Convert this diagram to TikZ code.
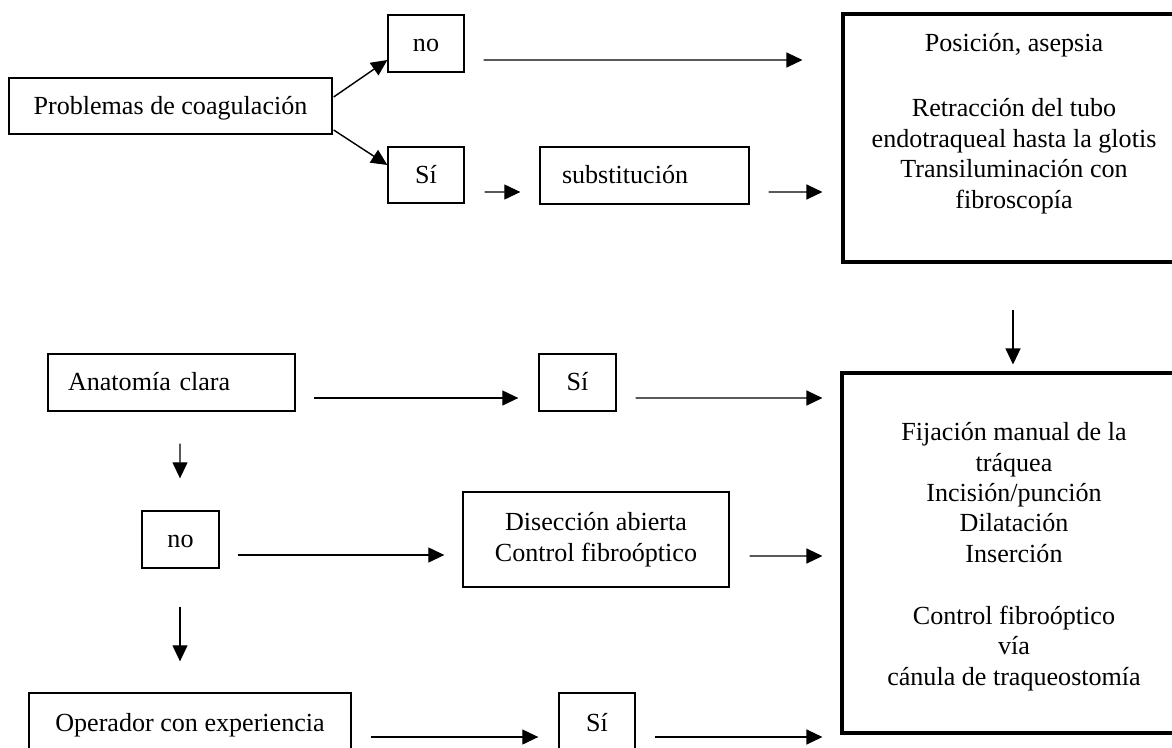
\documentclass[tikz,border=0pt]{standalone}
\usepackage{fontspec}
\setmainfont{Liberation Serif}
\usetikzlibrary{arrows.meta,calc}
\begin{document}
\begin{tikzpicture}[x=0.46pt,y=-0.46pt,
  box/.style={draw, line width=0.6pt, inner sep=0pt, font=\fontsize{12}{14}\selectfont, align=center},
  one/.style={box, text height=7.8pt, text depth=0pt},
  bigbox/.style={box, line width=1.4pt},
  sz/.style 2 args={minimum width=#1*0.46pt, minimum height=#2*0.46pt},
  arr/.style={line width=0.65pt, -{Triangle[length=7.4pt,width=6.9pt]}},
  txt/.style={inner sep=0pt, font=\fontsize{12}{14}\selectfont, align=center}]
\useasboundingbox (0,0) rectangle (1172,747);
\clip (0,0) rectangle (1172,747);
% top part
\node[one, sz={323}{56}] (prob) at (170.5,106) {Problemas de coagulación};
\node[one, sz={76}{57}] (no1) at (426,43.5) {no};
\node[one, sz={76}{56}] (si1) at (426,175) {Sí};
\node[one, sz={209}{57}, text width=75.9pt, inner xsep=10.12pt, align=left] (subs) at (644.5,175.5) {substitución};
\node[bigbox, sz={342}{248}] (big1) at (1014,138) {};
\node[txt, anchor=north] (big1t) at (1014,33) {Posición, asepsia\\[16pt] Retracción del tubo\\ endotraqueal hasta la glotis\\ Transiluminación con\\ fibroscopía};
% bottom part
\node[one, sz={247}{57}, text width=95.22pt, inner xsep=9.2pt, align=left] (anat) at (171.5,382.5) {Anatomía clara};
\node[one, sz={77}{57}] (si2) at (577.5,382.5) {Sí};
\node[one, sz={77}{57}] (no2) at (180.5,539.5) {no};
\node[box, sz={266}{95}] (disec) at (596,539.5) {Disección abierta\\ Control fibroóptico};
\node[bigbox, sz={343}{360}] (big2) at (1013.5,553) {};
\node[txt, anchor=north] (big2t) at (1014,422) {Fijación manual de la\\ tráquea\\ Incisión/punción\\ Dilatación\\ Inserción\\[14.5pt] Control fibroóptico\\ vía\\ cánula de traqueostomía};
\node[one, sz={322}{60}] (oper) at (190,723) {Operador con experiencia};
\node[one, sz={76}{60}] (si3) at (597,723) {Sí};
% arrows
\draw[arr] ($(prob.east)+(1,-9)$) -- ($(no1.west)+(0,16.5)$);
\draw[arr] ($(prob.east)+(1,24)$) -- ($(si1.west)+(0,-10)$);
\draw[arr] ($(no1.east)+(19,16.5)$) -- ($(big1.west)+(-39,-78)$);
\draw[arr] ($(si1.east)+(20,17)$) -- ($(subs.west)+(-19,16.5)$);
\draw[arr] ($(subs.east)+(19,16.5)$) -- ($(big1.west)+(-19,54)$);
\draw[arr] ($(big1.south)+(-1,46)$) -- ($(big2.north)+(-0.5,-7)$);
\draw[arr] ($(anat.east)+(18,15.5)$) -- ($(si2.west)+(-20,15.5)$);
\draw[arr] ($(si2.east)+(19,15.5)$) -- ($(big2.west)+(-18,-155)$);
\draw[arr] ($(anat.south)+(8.5,32)$) -- ($(no2.north)+(-0.5,-32)$);
\draw[arr] ($(no2.east)+(18,15.5)$) -- ($(disec.west)+(-18,15.5)$);
\draw[arr] ($(disec.east)+(20,16.5)$) -- ($(big2.west)+(-18,3)$);
\draw[arr] ($(no2.south)+(-0.5,38)$) -- ($(oper.north)+(-10,-31)$);
\draw[arr] ($(oper.east)+(19,14)$) -- ($(si3.west)+(-20,14)$);
\draw[arr] ($(si3.east)+(19,14)$) -- ($(big2.west)+(-18,184)$);
\end{tikzpicture}
\end{document}
